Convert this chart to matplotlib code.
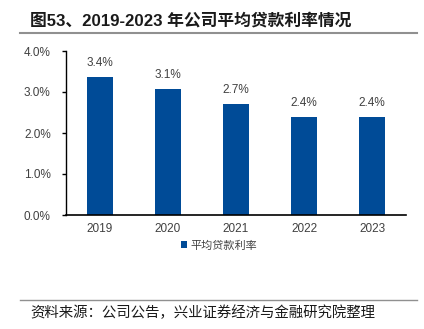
import matplotlib
matplotlib.use("Agg")
import matplotlib.pyplot as plt
from matplotlib.lines import Line2D

plt.rcParams['font.family'] = ['Liberation Sans', 'Noto Sans CJK SC', 'DejaVu Sans']

years = ["2019", "2020", "2021", "2022", "2023"]
rates = [3.37, 3.08, 2.70, 2.39, 2.39]
yticks = [0.0, 1.0, 2.0, 3.0, 4.0]
series_name = "平均贷款利率"
title = "图53、2019-2023 年公司平均贷款利率情况"
source = "资料来源：公司公告，兴业证券经济与金融研究院整理"

bar_color = "#004B97"
text_color = "#404040"

fig = plt.figure(figsize=(4.24, 3.29), dpi=100)
ax = fig.add_axes([66/424, 1-215/329, 340/424, 164/329])

x = range(len(years))
ax.bar(x, rates, width=0.39, color=bar_color, label=series_name, zorder=2)
for xi, v in zip(x, rates):
    ax.text(xi, v + 0.2, f"{v:.1f}%", ha="center", va="bottom",
            fontsize=8.5, color=text_color)

ax.set_xlim(-0.5, len(years) - 0.5)
ax.set_ylim(0, 4.0)
ax.set_yticks(yticks)
ax.set_yticklabels([f"{t:.1f}%" for t in yticks], fontsize=8.5, color=text_color)
ax.set_xticks(list(x))
ax.set_xticklabels(years, fontsize=8.5, color=text_color)
ax.tick_params(axis="x", length=0, pad=6)
ax.tick_params(axis="y", length=3, width=1, direction="out", pad=8)
for s in ("top", "right"):
    ax.spines[s].set_visible(False)
ax.spines["left"].set_linewidth(1)
ax.spines["bottom"].set_linewidth(1.2)

ax.legend(loc="upper center", bbox_to_anchor=(0.45, -0.095), frameon=False,
          fontsize=8, handlelength=0.6, handleheight=0.6, handletextpad=0.3,
          labelcolor=text_color)

fig.text(30/424, 1-20/329, title, fontsize=12.1, fontweight="bold",
         va="center", ha="left", color="#1a1a1a")
fig.add_artist(Line2D([20/424, 417/424], [1-33/329, 1-33/329],
                      color="#909090", linewidth=1.5))
fig.add_artist(Line2D([20/424, 417/424], [1-300/329, 1-300/329],
                      color="#909090", linewidth=1.0))
fig.text(30/424, 1-313/329, source, fontsize=10.4, va="center", ha="left",
         color="#1a1a1a")

fig.savefig("out.png", dpi=100)
